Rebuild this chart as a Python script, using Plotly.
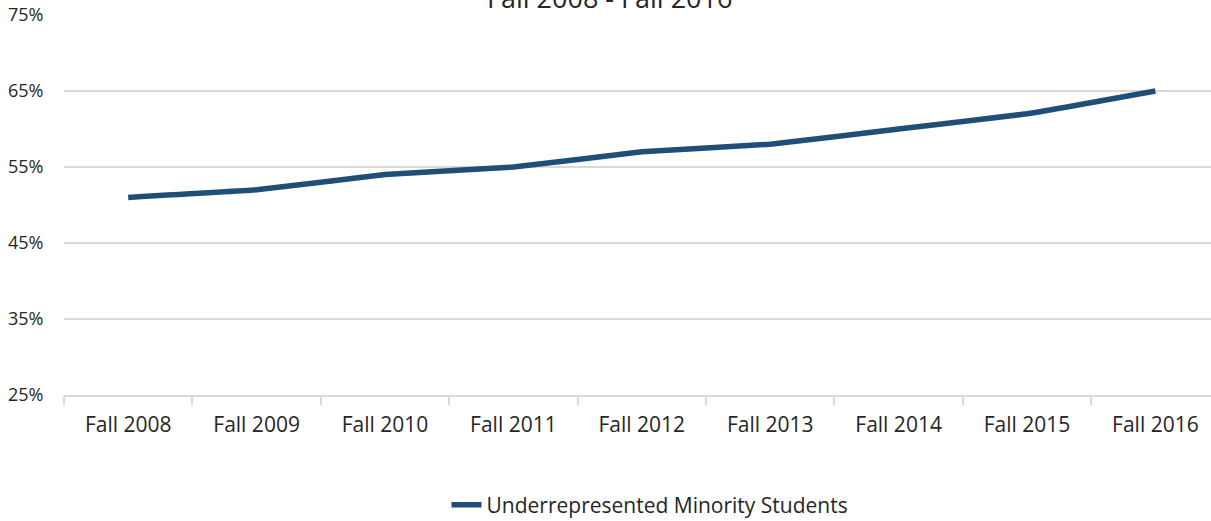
import plotly.graph_objects as go

categories = ["Fall 2008", "Fall 2009", "Fall 2010", "Fall 2011", "Fall 2012",
              "Fall 2013", "Fall 2014", "Fall 2015", "Fall 2016"]
urm_pct = [51, 52, 54, 55, 57, 58, 60, 62, 65]
series_name = "Underrepresented Minority Students"
title_text = "Fall 2008 - Fall 2016"
y_ticks = [25, 35, 45, 55, 65, 75]

x_idx = list(range(len(categories)))
font_family = "Open Sans, Lato, sans-serif"
grid_col = "#d9d9d9"
txt_col = "#262626"

fig = go.Figure()
fig.add_trace(go.Scatter(
    x=x_idx, y=urm_pct, mode="lines", name=series_name,
    line=dict(color="#1f4e79", width=5.5, shape="spline", smoothing=0.3),
))

fig.update_layout(
    width=1211, height=521,
    margin=dict(l=64, r=0, t=15, b=126, autoexpand=False),
    paper_bgcolor="white", plot_bgcolor="white",
    font=dict(family=font_family, color=txt_col, size=18),
    showlegend=True,
    legend=dict(orientation="h", xref="container", x=650 / 1211, xanchor="center",
                yref="container", y=1 - 505 / 521, yanchor="middle",
                font=dict(size=21, color=txt_col)),
    xaxis=dict(
        range=[-0.5, 8.433],
        tickvals=x_idx, ticktext=categories,
        ticks="outside", ticklen=10, tickcolor="rgba(0,0,0,0)",
        showgrid=False, zeroline=False,
        showline=True, linecolor=grid_col, linewidth=1.5,
        minor=dict(tickvals=[i + 0.5 for i in range(-1, 9)], ticks="outside",
                   ticklen=8, tickcolor=grid_col, tickwidth=1.5, showgrid=False),
        tickfont=dict(size=21, color=txt_col),
    ),
    yaxis=dict(
        range=[25, 75],
        tickvals=y_ticks, ticktext=[f"{v}%" for v in y_ticks],
        showgrid=True, gridcolor=grid_col, gridwidth=1.5,
        zeroline=False, showline=False,
        ticks="outside", ticklen=16, tickcolor="rgba(0,0,0,0)",
        tickfont=dict(size=18, color=txt_col),
    ),
    annotations=[dict(
        text=title_text, xref="paper", yref="paper",
        x=(609 - 64) / 1147, y=1 + 17 / 380, xanchor="center", yanchor="middle",
        showarrow=False, font=dict(size=27, color=txt_col, family=font_family),
    )],
)

fig.write_html("out.html", config={"displayModeBar": False},
               post_script="document.body.style.margin='0';")
